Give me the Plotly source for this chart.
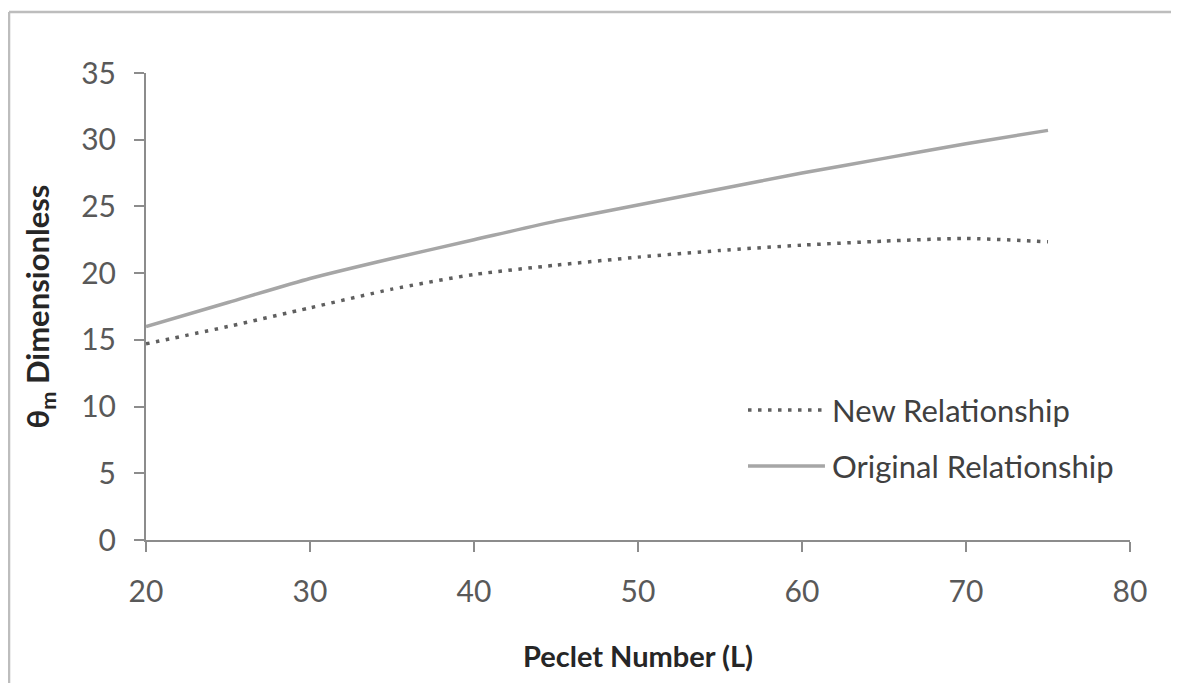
import plotly.graph_objects as go

peclet = [20, 25, 30, 35, 40, 45, 50, 55, 60, 65, 70, 75]
original_relationship = [16.0, 17.8, 19.6, 21.1, 22.5, 23.9, 25.1, 26.3, 27.5, 28.6, 29.7, 30.7]
new_relationship = [14.7, 16.0, 17.4, 18.8, 19.9, 20.6, 21.2, 21.7, 22.1, 22.4, 22.6, 22.35]

x_ticks = [20, 30, 40, 50, 60, 70, 80]
y_ticks = [0, 5, 10, 15, 20, 25, 30, 35]

FONT = "Lato"
TICK_COLOR = "#595959"
AXIS_COLOR = "#8c8c8c"

fig = go.Figure()
fig.add_trace(go.Scatter(
    x=peclet, y=new_relationship, mode="lines", name="New Relationship",
    line=dict(color="#5f5f5f", width=3.5, dash="3.5px,6.5px", shape="spline", smoothing=0.6),
    showlegend=False,
))
fig.add_trace(go.Scatter(
    x=peclet, y=original_relationship, mode="lines", name="Original Relationship",
    line=dict(color="#a6a6a6", width=3.5, shape="spline", smoothing=0.6),
    showlegend=False,
))

# legend drawn in paper coordinates
legend_items = [("New Relationship", "#5f5f5f", "3.5px,6.5px", 0.2784),
                ("Original Relationship", "#a6a6a6", "solid", 0.1585)]
for label, color, dash, yp in legend_items:
    fig.add_shape(type="line", xref="paper", yref="paper", x0=0.6118, x1=0.690, y0=yp, y1=yp,
                  line=dict(color=color, width=3.5, dash=dash))
    fig.add_annotation(xref="paper", yref="paper", x=0.695, y=yp, text=label, showarrow=False,
                       xanchor="left", yanchor="middle",
                       font=dict(family=FONT, size=31, color="#404040"))

# outer frame (left and top edges visible)
fig.add_shape(type="line", xref="paper", yref="paper", x0=-0.1392, x1=-0.1392, y0=-0.35, y1=1.1306,
              line=dict(color="#bdbdbd", width=2.5))
fig.add_shape(type="line", xref="paper", yref="paper", x0=-0.1392, x1=1.08, y0=1.1306, y1=1.1306,
              line=dict(color="#bdbdbd", width=2.5))

fig.update_layout(
    width=1179, height=683,
    margin=dict(l=138, r=57, t=65, b=151),
    paper_bgcolor="white", plot_bgcolor="white",
    font=dict(family=FONT, color=TICK_COLOR),
)
fig.update_xaxes(
    range=[20, 80], tickvals=x_ticks, ticktext=[str(v) for v in x_ticks],
    showgrid=False, zeroline=False, showline=True, linecolor=AXIS_COLOR, linewidth=2,
    ticks="outside", ticklen=10, tickwidth=1.5, tickcolor=AXIS_COLOR,
    tickfont=dict(family=FONT, size=30, color=TICK_COLOR), ticklabelstandoff=14,
    title=dict(text="<b>Peclet Number (L)</b>", font=dict(family=FONT, size=29, color="#262626"), standoff=40),
)
fig.update_yaxes(
    range=[0, 35], tickvals=y_ticks, ticktext=[str(v) for v in y_ticks],
    showgrid=False, zeroline=False, showline=True, linecolor=AXIS_COLOR, linewidth=2,
    ticks="outside", ticklen=10, tickwidth=1.5, tickcolor=AXIS_COLOR,
    tickfont=dict(family=FONT, size=30, color=TICK_COLOR), ticklabelstandoff=12,
    title=dict(text="<b>θ<sub>m</sub> Dimensionless</b>", font=dict(family=FONT, size=31, color="#262626"), standoff=22),
)

fig.write_html("out.html")
